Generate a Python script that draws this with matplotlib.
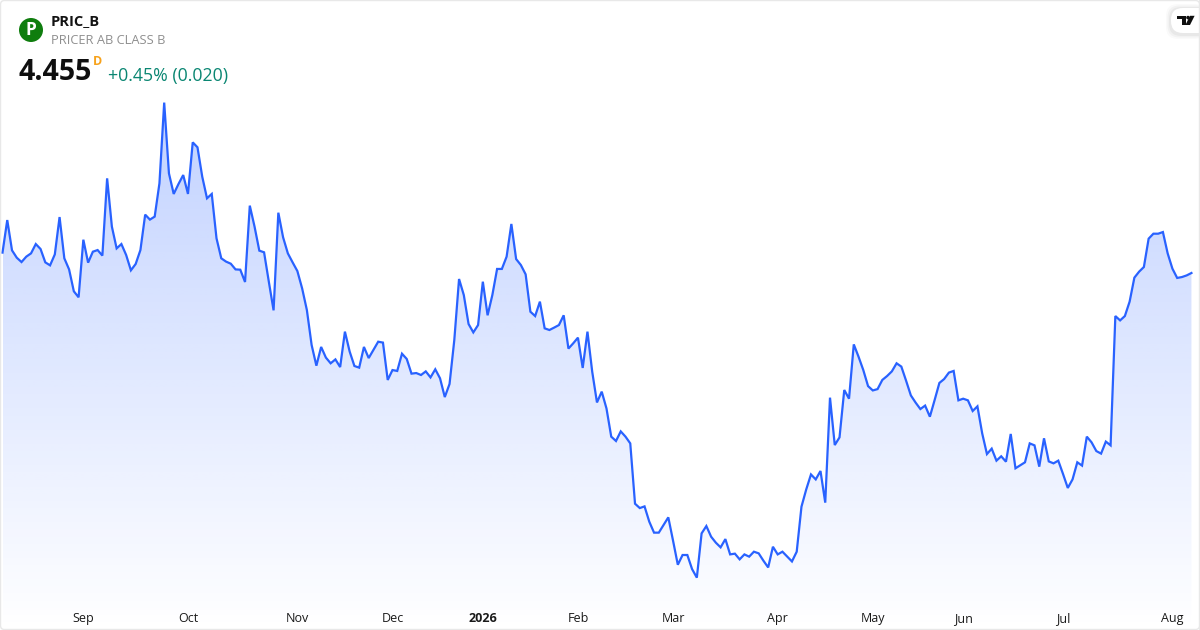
import numpy as np
import matplotlib
matplotlib.use("Agg")
import matplotlib.pyplot as plt
from matplotlib.patches import Circle, FancyBboxPatch, Polygon

plt.rcParams['font.family'] = ['Open Sans', 'DejaVu Sans']

# daily close
closes = [
    4.591, 4.808, 4.606, 4.557, 4.528, 4.564, 4.586, 4.648, 4.615, 4.526,
    4.506, 4.579, 4.828, 4.553, 4.479, 4.333, 4.293, 4.677, 4.524, 4.597,
    4.608, 4.571, 5.086, 4.764, 4.619, 4.648, 4.575, 4.473, 4.515, 4.608,
    4.844, 4.811, 4.831, 5.053, 5.591, 5.119, 4.982, 5.048, 5.108, 4.982,
    5.326, 5.293, 5.097, 4.953, 4.982, 4.686, 4.553, 4.531, 4.517, 4.479,
    4.477, 4.395, 4.904, 4.764, 4.604, 4.593, 4.397, 4.206, 4.857, 4.693,
    4.586, 4.526, 4.468, 4.353, 4.208, 3.975, 3.837, 3.962, 3.891, 3.853,
    3.879, 3.828, 4.064, 3.931, 3.835, 3.824, 3.962, 3.888, 3.942, 3.997,
    3.991, 3.742, 3.808, 3.802, 3.917, 3.882, 3.784, 3.788, 3.775, 3.799,
    3.759, 3.813, 3.753, 3.628, 3.715, 4.008, 4.415, 4.308, 4.115, 4.059,
    4.108, 4.397, 4.173, 4.308, 4.482, 4.482, 4.564, 4.782, 4.548, 4.508,
    4.446, 4.197, 4.168, 4.264, 4.086, 4.075, 4.091, 4.108, 4.173, 3.951,
    3.986, 4.024, 3.822, 4.064, 3.797, 3.592, 3.664, 3.552, 3.364, 3.335,
    3.399, 3.364, 3.319, 2.917, 2.888, 2.899, 2.797, 2.724, 2.724, 2.775,
    2.826, 2.670, 2.510, 2.575, 2.575, 2.481, 2.424, 2.719, 2.768, 2.697,
    2.657, 2.626, 2.681, 2.579, 2.584, 2.546, 2.579, 2.564, 2.597, 2.586,
    2.537, 2.492, 2.630, 2.579, 2.597, 2.564, 2.532, 2.597, 2.897, 3.012,
    3.112, 3.079, 3.135, 2.924, 3.624, 3.308, 3.359, 3.675, 3.617, 3.979,
    3.897, 3.808, 3.701, 3.672, 3.681, 3.742, 3.768, 3.799, 3.853, 3.831,
    3.737, 3.639, 3.591, 3.548, 3.571, 3.497, 3.608, 3.722, 3.748, 3.791,
    3.802, 3.606, 3.617, 3.606, 3.535, 3.566, 3.386, 3.248, 3.284, 3.204,
    3.233, 3.197, 3.382, 3.153, 3.173, 3.193, 3.319, 3.306, 3.164, 3.353,
    3.199, 3.186, 3.204, 3.115, 3.022, 3.079, 3.193, 3.171, 3.364, 3.326,
    3.268, 3.251, 3.331, 3.306, 4.168, 4.139, 4.168, 4.264, 4.424, 4.464,
    4.495, 4.684, 4.717, 4.717, 4.728, 4.586, 4.484, 4.422, 4.428, 4.439,
    4.455,
]
tick_pos = [17, 39, 62, 82, 101, 121, 141, 163, 183, 202, 223, 246]
tick_labels = ['Sep', 'Oct', 'Nov', 'Dec', '2026', 'Feb', 'Mar', 'Apr', 'May', 'Jun', 'Jul', 'Aug']

LINE = '#2962FF'
W, H = 1200, 630

fig = plt.figure(figsize=(12, 6.3), dpi=100, facecolor='white')

# price pane fills the whole card
ax = fig.add_axes([0, 0, 1, 1])
ax.set_xlim(-0.526, 251.8)
ax.set_ylim(2.075, 6.275)
ax.axis('off')

x = np.arange(len(closes))
top = max(closes)
floor = ax.get_ylim()[0]

# gradient under the line
grad = np.zeros((256, 2, 4))
grad[..., :3] = matplotlib.colors.to_rgb(LINE)
grad[..., 3] = np.linspace(0.29, 0.0, 256)[:, None]
img = ax.imshow(grad, extent=[x[0], x[-1], floor, top], origin='upper',
                aspect='auto', interpolation='bilinear', zorder=1)
poly = ax.fill_between(x, closes, floor, color='none')
img.set_clip_path(poly.get_paths()[0], transform=ax.transData)
ax.set_xlim(-0.526, 251.8)
ax.set_ylim(2.075, 6.275)

ax.plot(x, closes, color=LINE, lw=1.6, solid_joinstyle='miter', zorder=2)

# overlay in pixel coordinates for header, ticks and card border
ov = fig.add_axes([0, 0, 1, 1], facecolor='none')
ov.set_xlim(0, W)
ov.set_ylim(H, 0)
ov.axis('off')

ov.add_patch(FancyBboxPatch((0.5, 0.5), W - 1, H - 1, boxstyle='round,pad=0,rounding_size=4',
                            fc='none', ec='#e8e8e8', lw=1.0, zorder=5))

for pos, lab in zip(tick_pos, tick_labels):
    px = 2.5 + 4.756 * pos
    ov.text(px, 618.5, lab, ha='center', va='center', fontsize=9, color='#1a1a1a',
            fontweight='bold' if lab == '2026' else 'normal')

ov.add_patch(Circle((31, 30), 12, fc='#0f7d0e', ec='none'))
ov.text(31, 30, 'P', ha='center', va='center', color='white', fontsize=12.5, fontweight='bold')
ov.text(51, 21.5, 'PRIC_B', ha='left', va='center', fontsize=10.5, fontweight='bold', color='#131313')
ov.text(51, 41, 'PRICER AB CLASS B', ha='left', va='center', fontsize=9.3, color='#8f8f8f')
ov.text(18.5, 73, '4.455', ha='left', va='center', fontsize=20.5, fontweight='bold', color='#0f0f0f')
ov.text(93, 61.5, 'D', ha='left', va='center', fontsize=9, fontweight='bold', color='#f7a21b')
ov.text(108, 75.5, '+0.45% (0.020)', ha='left', va='center', fontsize=12.8, color='#0a8672')

# tradingview badge, soft shadow then pill
for grow, alpha in [(5, 0.02), (3.5, 0.03), (2, 0.04)]:
    ov.add_patch(FancyBboxPatch((1171 - grow, 8 - grow + 1), 40, 25 + 2 * grow,
                                boxstyle='round,pad=0,rounding_size=12', fc='black', ec='none',
                                alpha=alpha, zorder=3))
ov.add_patch(FancyBboxPatch((1171, 8), 40, 25, boxstyle='round,pad=0,rounding_size=12',
                            fc='white', ec='none', zorder=4))
ov.add_patch(Polygon([(1177.3, 15.8), (1186, 15.8), (1186, 25), (1181.7, 25), (1181.7, 19.2), (1177.3, 19.2)],
                     fc='#0f0f0f', ec='none', zorder=6))
ov.add_patch(Circle((1188, 17.6), 1.8, fc='#0f0f0f', ec='none', zorder=6))
ov.add_patch(Polygon([(1190, 15.8), (1194.6, 15.8), (1190, 25), (1185.4, 25)],
                     fc='#0f0f0f', ec='none', zorder=6))
# the card edge sits over the badge's right side
ov.add_patch(plt.Rectangle((1199, 0), 1, H, fc='#e8e8e8', ec='none', zorder=7))

fig.savefig('out.png', dpi=100, facecolor='white')
